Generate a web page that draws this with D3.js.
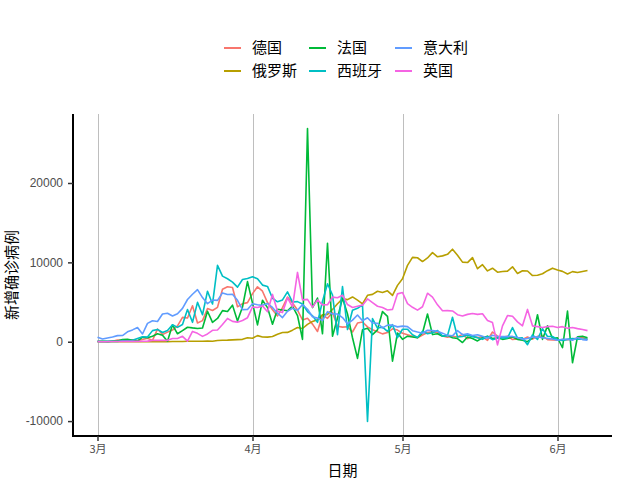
<!DOCTYPE html>
<html><head><meta charset="utf-8">
<script src="https://cdn.jsdelivr.net/npm/d3@7"></script>
<style>body{margin:0;background:#fff;} svg{display:block;}</style>
</head><body><svg id="chart" width="640" height="480"></svg>
<script>
const startDate = "2020-03-01";
const countries = ["德国","俄罗斯","法国","西班牙","意大利","英国"];
const colors = ["#F8766D","#B79F00","#00BA38","#00BFC4","#619CFF","#F564E3"];

const germany = [51,29,37,66,220,188,129,241,136,281,451,170,1597,910,1210,1477,1985,3070,2993,4528,2365,2660,4183,3930,4337,6615,6933,6824,4400,4790,4923,6064,6922,6365,4933,4031,3251,4289,5633,4885,3990,2737,2946,2218,1287,3394,2945,3699,1945,1842,1881,1226,2357,2481,1870,1514,1257,988,1154,1627,1470,1068,890,697,488,855,1155,1268,1158,736,555,697,595,927,380,755,519,617,182,1227,695,548,689,276,342,272,600,324,672,726,267,221,184,285,242,351,452,526,300];
const russia = [0,1,0,0,1,6,4,3,0,0,3,8,17,14,4,27,24,33,52,54,53,61,71,57,163,182,196,228,270,302,501,440,771,601,582,658,954,1154,1175,1459,1786,1667,2186,2558,2774,3388,3448,4070,4785,5400,5300,5642,5236,4774,5849,5966,6361,6198,6411,5841,7099,7933,9623,10633,10581,10102,10559,11231,10699,10817,11012,11656,10899,10028,9974,10598,9200,9709,8926,9263,8764,8849,8894,9434,8599,8946,8915,8338,8371,8572,8952,9268,9035,8863,8536,8831,8726,8855,8984];
const france = [30,61,13,84,92,276,301,177,83,575,497,700,1000,808,60,2137,1002,1391,1828,1741,1670,1736,3838,2448,2929,3922,3809,4611,2599,4376,7578,4861,2116,5233,4300,2200,4100,4000,3900,4500,3300,300,26849,4300,5500,1000,12400,700,3000,5500,3500,500,-2100,1500,1700,900,1500,3800,3200,-2450,1100,300,700,600,500,1100,3500,900,1000,700,800,500,400,-100,600,400,100,500,700,400,500,300,400,600,300,200,0,500,3400,300,2000,400,500,-760,3860,-2650,630,700,500];
const spain = [39,36,45,57,37,141,100,173,400,622,582,1400,1550,1159,1407,2144,1806,2162,4053,2447,4964,3394,6368,4749,9630,8271,7933,7516,6875,7846,7967,8195,7947,7134,6969,5478,5029,5267,6278,5002,5051,4754,3804,3268,2442,5103,7304,5891,887,6948,1536,3968,4211,4635,-10034,2915,1729,1831,1308,2144,518,1573,1574,884,545,1318,996,1122,1410,721,772,3086,594,661,849,643,515,300,652,256,431,518,482,1787,466,482,-372,859,300,1647,658,664,251,159,294,394,334,318,332];
const italy = [573,335,466,587,769,778,1247,1492,1797,977,2313,2651,2547,3497,3590,3233,3526,4207,5322,5986,6557,5560,4789,5249,5210,6153,5959,5974,5217,4050,4053,4782,4668,4585,4805,4316,3599,3039,3836,4204,3951,4694,4092,3153,2972,2667,3786,3493,3491,3047,2256,2729,3370,2646,3021,2357,2324,1739,2091,2086,1872,1965,1900,1389,1221,1075,1444,1401,1327,1083,802,744,1402,888,992,789,875,675,451,813,665,642,652,669,531,300,397,584,593,516,416,355,178,318,321,177,518,270,197];
const uk = [13,4,11,35,30,48,43,67,48,62,75,170,172,171,171,408,409,682,74,1298,1053,674,985,1438,1476,2172,2933,2567,2468,2673,3028,4384,4308,4516,3788,5959,3843,3670,5525,4398,8733,5269,5332,4364,5275,4638,4662,5624,5545,5858,4684,4316,4466,4608,5394,4929,4468,4309,3996,4076,6032,6201,4806,4339,3985,4406,6111,5614,4649,3896,3923,3877,3403,3242,3446,3560,3450,3534,2684,2412,-400,2000,3300,3200,2500,2000,4070,2000,1900,1800,1900,1950,1800,1900,1700,1800,1650,1550,1400];

const monthTicks = ["2020-03-01","2020-04-01","2020-05-01","2020-06-01"];
const monthLabels = ["3月","4月","5月","6月"];
const yTicks = [-10000, 0, 10000, 20000];
const yTickLabels = ["-10000", "0", "10000", "20000"];
const xTitle = "日期";
const yTitle = "新增确诊病例";

const seriesValues = [germany, russia, france, spain, italy, uk];

const parse = d3.timeParse("%Y-%m-%d");
const start = parse(startDate);
const series = countries.map((c, i) => ({
  name: c, color: colors[i],
  values: seriesValues[i].map((v, k) => ({date: d3.timeDay.offset(start, k), value: v}))
}));

const svg = d3.select("#chart");
svg.append("rect").attr("width", 640).attr("height", 480).attr("fill", "#fff");

const pL = 73, pR = 612, pT = 114, pB = 436;

const allDates = series[0].values.map(d => d.date);
const dMin = d3.min(allDates), dMax = d3.max(allDates);
const span = dMax - dMin;
const x = d3.scaleTime()
  .domain([new Date(+dMin - 0.05 * span), new Date(+dMax + 0.05 * span)])
  .range([pL, pR]);

const allVals = series.flatMap(s => s.values.map(d => d.value));
const vMin = d3.min(allVals), vMax = d3.max(allVals);
const vr = vMax - vMin;
const y = d3.scaleLinear()
  .domain([vMin - 0.05 * vr, vMax + 0.05 * vr])
  .range([pB, pT]);

const cjk = "'Noto Sans CJK SC', 'Noto Sans', sans-serif";
const latin = "'Liberation Sans', Arial, 'Noto Sans CJK SC', sans-serif";

// vertical grid lines
svg.append("g").selectAll("line")
  .data(monthTicks.map(parse))
  .join("line")
  .attr("x1", d => Math.round(x(d)) + 0.5).attr("x2", d => Math.round(x(d)) + 0.5)
  .attr("y1", pT).attr("y2", pB)
  .attr("stroke", "#bebebe").attr("stroke-width", 1);

// lines
const line = d3.line().x(d => x(d.date)).y(d => y(d.value));
svg.append("g").selectAll("path")
  .data(series)
  .join("path")
  .attr("d", s => line(s.values))
  .attr("fill", "none")
  .attr("stroke", s => s.color)
  .attr("stroke-width", 1.6)
  .attr("stroke-linejoin", "round");

// x axis
const xAxis = d3.axisBottom(x)
  .tickValues(monthTicks.map(parse))
  .tickFormat((d, i) => monthLabels[i])
  .tickSize(5).tickSizeOuter(0).tickPadding(4);
const gx = svg.append("g").attr("transform", `translate(0,${pB})`).call(xAxis);
gx.select(".domain").attr("stroke", "#000").attr("stroke-width", 2).attr("d", `M${pL},0H${pR}`);
gx.selectAll(".tick line").attr("stroke", "#333").attr("stroke-width", 1.5);
gx.selectAll(".tick text").attr("font-family", cjk).attr("font-size", 11).attr("fill", "#4d4d4d");

// y axis
const yAxis = d3.axisLeft(y)
  .tickValues(yTicks)
  .tickFormat((d, i) => yTickLabels[i])
  .tickSize(5).tickSizeOuter(0).tickPadding(5);
const gy = svg.append("g").attr("transform", `translate(${pL},0)`).call(yAxis);
gy.select(".domain").attr("stroke", "#000").attr("stroke-width", 2).attr("d", `M0,${pT}V${pB + 1}`);
gy.selectAll(".tick line").attr("stroke", "#333").attr("stroke-width", 1.5);
gy.selectAll(".tick text").attr("font-family", latin).attr("font-size", 12).attr("fill", "#4d4d4d");

// axis titles
svg.append("text").attr("x", (pL + pR) / 2).attr("y", 476)
  .attr("text-anchor", "middle").attr("font-family", cjk).attr("font-size", 15)
  .attr("fill", "#000").text(xTitle);
svg.append("text")
  .attr("transform", `translate(17,${(pT + pB) / 2}) rotate(-90)`)
  .attr("text-anchor", "middle").attr("font-family", cjk).attr("font-size", 15)
  .attr("fill", "#000").text(yTitle);

// legend: column-major, 2 rows
const legCols = [224, 309, 395];
const legRows = [48, 71];
const leg = svg.append("g");
series.forEach((s, i) => {
  const cx = legCols[Math.floor(i / 2)], cy = legRows[i % 2];
  leg.append("line").attr("x1", cx).attr("x2", cx + 17).attr("y1", cy).attr("y2", cy)
    .attr("stroke", s.color).attr("stroke-width", 2);
  leg.append("text").attr("x", cx + 28).attr("y", cy).attr("dy", "0.35em")
    .attr("font-family", cjk).attr("font-size", 15).attr("fill", "#000").text(s.name);
});
</script></body></html>
